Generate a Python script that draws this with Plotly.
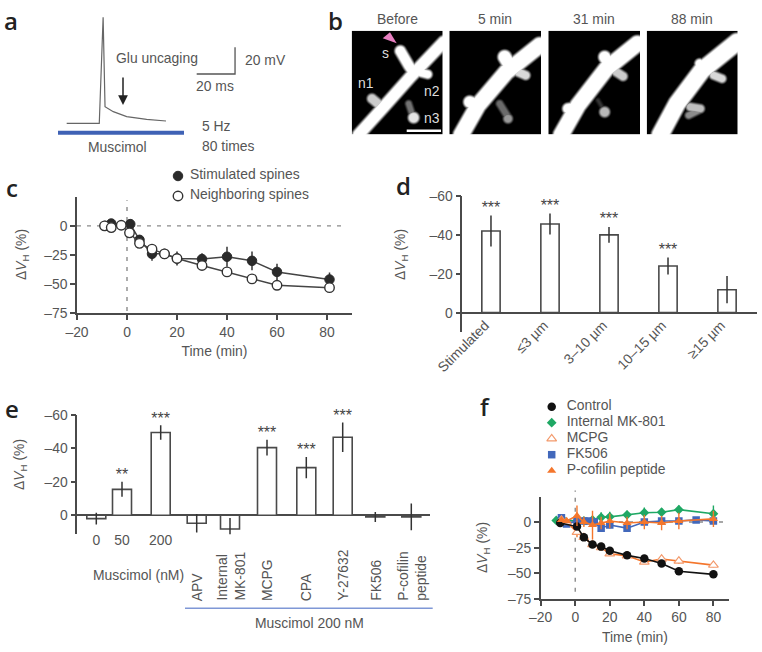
import numpy as np
import plotly.graph_objects as go

W, H = 762, 652
INK = "#4a4a4a"
TXT = "#555555"
FONT = "Liberation Sans"
FS = 13.9

# ---------- panel a: trace (ms, mV) and scale bars
trace_t = [0, 17, 19, 20, 24.3, 31.3, 41.7, 51.8]
trace_v = [0, 0, 79.5, 12.5, 8.75, 5, 3, 1.75]
scale_t = [67.8, 87.8, 87.8]
scale_v = [37, 37, 57]

# ---------- panel b: image sketches: (polyline points, radius, brightness), image units
img_before = [
    ([(55, 403), (130, 320), (210, 230), (310, 125)], 19, 1.0),
    ([(180, 152), (205, 195), (215, 210)], 17, 1.0),
    ([(262, 222), (235, 215)], 14, 1.0),
    ([(95, 295), (125, 320)], 15, 0.8),
    ([(220, 352), (220, 352)], 17, 0.9),
    ([(205, 310), (215, 340)], 10, 0.45),
]
img_5 = [
    ([(365, 403), (415, 315), (500, 215), (600, 135)], 25, 1.0),
    ([(495, 170), (510, 195)], 21, 1.0),
    ([(390, 305), (420, 315)], 19, 1.0),
    ([(558, 225), (535, 215)], 14, 0.85),
    ([(505, 355), (505, 355)], 14, 0.6),
    ([(480, 310), (505, 350)], 11, 0.42),
]
img_31 = [
    ([(665, 403), (715, 315), (800, 205), (893, 130)], 25, 1.0),
    ([(795, 170), (810, 195)], 19, 1.0),
    ([(685, 325), (715, 320)], 17, 1.0),
    ([(850, 228), (830, 215)], 14, 0.8),
    ([(795, 335), (795, 335)], 16, 0.72),
    ([(775, 300), (790, 325)], 6, 0.2),
]
img_88 = [
    ([(960, 403), (1010, 310), (1085, 210), (1190, 125)], 27, 1.0),
    ([(1078, 190), (1095, 210)], 15, 1.0),
    ([(1145, 235), (1120, 225)], 13, 0.85),
    ([(1080, 325), (1050, 320)], 13, 0.75),
    ([(1045, 345), (1075, 330)], 11, 0.55),
]
images = [img_before, img_5, img_31, img_88]
scale_bar_x = [200, 303]
scale_bar_y = [392, 392]
panel_titles = ["Before", "5 min", "31 min", "88 min"]

# ---------- panel c
c_stim_t = [-8.7, -6.3, 1.3, 5, 10, 15, 20, 30, 40, 50, 60, 81]
c_stim_v = [0, 2, 1.5, -12, -24, -24, -28, -28.5, -26.5, -30, -39.5, -46]
c_stim_e = [2, 2, 4, 3, 6, 3, 5, 5, 8.5, 8, 7, 6]
c_neigh_t = [-9, -6.3, -2.3, 1, 5, 10, 15, 20, 30, 40, 50, 60, 81]
c_neigh_v = [0, -1.5, 0.5, -6, -15, -20, -24, -28, -34, -39.5, -45.5, -51, -53]
c_neigh_e = [1, 2, 1, 2, 3, 2, 2, 6, 2, 2, 2, 2, 2]
c_names = ["Stimulated spines", "Neighboring spines"]
c_x_ticks = [-20, 0, 20, 40, 60, 80]
c_x_text = ["–20", "0", "20", "40", "60", "80"]
c_y_ticks = [-75, -50, -25, 0]
c_y_text = ["–75", "–50", "–25", "0"]

# ---------- panel d
d_labels = ["Stimulated", "≤3 µm", "3–10 µm", "10–15 µm", "≥15 µm"]
d_vals = [-42, -45.6, -40, -24, -11.8]
d_errs = [8, 5.4, 4, 4.4, 7]
d_stars = ["***", "***", "***", "***", ""]
bar_y_ticks = [-60, -40, -20, 0]
bar_y_text = ["–60", "–40", "–20", "0"]

# ---------- panel e
e_labels = ["0", "50", "200", "APV", "Internal<br>MK-801", "MCPG", "CPA", "Y-27632", "FK506", "P-cofilin<br>peptide"]
e_pos = [96.3, 122, 160.7, 196.7, 230, 267, 306.3, 342.7, 375.3, 411.3]
e_vals = [2, -15.5, -49.5, 4.8, 8.2, -40.5, -28.5, -46.7, 1, 1]
e_errs = [3.5, 4.5, 4.3, 5.5, 6.5, 4.7, 6.3, 8.8, 3, 8]
e_stars = ["", "**", "***", "", "", "***", "***", "***", "", ""]

# ---------- panel f
f_ctrl_t = [-8.7, 1, 5, 10, 15, 20, 30, 40, 50, 60, 80]
f_ctrl_v = [-1, -4.5, -15, -22, -24, -28, -32.5, -35.5, -40.5, -48, -51]
f_ctrl_e = [1, 2, 2, 2, 2, 2, 2, 2, 2, 2, 2]
f_mk_t = [-11, -7, 1, 5, 10, 15, 20, 30, 40, 50, 60, 80]
f_mk_v = [1.5, 2, 1, 1, 2, 4.5, 5, 7, 9, 9.5, 12, 8]
f_mk_e = [1, 2, 3, 3, 3, 5, 5, 4, 5, 4, 4, 8]
f_mcpg_t = [-8, -5, 1, 5, 10, 15, 20, 30, 40, 50, 60, 80]
f_mcpg_v = [2, 0, -10, -15, -22, -25, -31, -33, -39, -36, -38, -42]
f_mcpg_e = [2, 2, 5, 3, 3, 3, 2, 2, 2, 2, 3, 2]
f_fk_t = [-8, -5, 1, 5, 8, 11, 15, 20, 30, 40, 50, 60, 70, 80]
f_fk_v = [4, -2, 1, 1, 1, 0, -6, -3, -6, 0, 1, 1, 2, 1]
f_fk_e = [3, 3, 3, 3, 2, 2, 3, 3, 3, 3, 3, 3, 2, 3]
f_pc_t = [-8, -5, 1, 5, 10, 15, 20, 30, 40, 50, 60, 80]
f_pc_v = [2, 1, 6, 0, -3, -1, 1, -1, 0, -1, 1, 3]
f_pc_e = [2, 2, 10, 5, 14, 6, 7, 6, 7, 7, 8, 8]
f_names = ["Control", "Internal MK-801", "MCPG", "FK506", "P-cofilin peptide"]
f_x_ticks = c_x_ticks
f_x_text = c_x_text


def xdom(a, b):
    return [a / W, b / W]


def ydom(top, bot):
    return [1 - bot / H, 1 - top / H]


fig = go.Figure()
annots, shapes = [], []


def label(text, x, y, size=FS, color=TXT, anchor="center", angle=0, font=FONT, **kw):
    fnt = dict(family=font, size=size, color=color)
    fnt.update(kw.pop("fontx", {}))
    annots.append(dict(text=text, x=x / W, y=1 - y / H, xref="paper", yref="paper", showarrow=False,
                       xanchor=anchor, yanchor="middle", textangle=angle, font=fnt, **kw))


def hline_px(x0, x1, y, color, width):
    shapes.append(dict(type="line", xref="paper", yref="paper", x0=x0 / W, x1=x1 / W,
                       y0=1 - y / H, y1=1 - y / H, line=dict(color=color, width=width)))


axis_style = dict(showgrid=False, zeroline=False, showline=True, linecolor=INK, linewidth=1.5,
                  ticks="outside", ticklen=5, tickwidth=1.5, tickcolor=INK, automargin=False,
                  tickfont=dict(family=FONT, size=FS, color=TXT))
hidden = dict(visible=False, showgrid=False, zeroline=False, fixedrange=True, automargin=False)

layout = dict(width=W, height=H, margin=dict(l=0, r=0, t=0, b=0, pad=0), paper_bgcolor="white",
              plot_bgcolor="rgba(0,0,0,0)", showlegend=False)

# ---- a
layout["xaxis"] = dict(hidden, domain=xdom(50, 250), range=[-8.7, 95.6])
layout["yaxis"] = dict(hidden, domain=ydom(10, 130), range=[-5, 85])
fig.add_trace(go.Scatter(x=trace_t, y=trace_v, mode="lines", line=dict(color="#666666", width=1.2),
                         xaxis="x", yaxis="y"))
fig.add_trace(go.Scatter(x=scale_t, y=scale_v, mode="lines", line=dict(color="#555555", width=1.3),
                         xaxis="x", yaxis="y"))
hline_px(58, 184, 132.7, "#3f62b5", 4)
label("Glu uncaging", 157, 58)
label("20 mV", 243, 60, anchor="left")
label("20 ms", 215, 86)
label("5 Hz", 200, 126, anchor="left")
label("80 times", 200, 146, anchor="left")
label("Muscimol", 117, 147)
annots.append(dict(x=123 / W, y=1 - 105 / H, xref="paper", yref="paper", text="", ax=0, ay=-29,
                   arrowhead=2, arrowsize=1.3, arrowwidth=1.5, arrowcolor="#222222", showarrow=True))

# ---- b
rects = [(351.7, 442.7), (449.3, 541), (548.3, 640), (646.7, 737.7)]
offs = [35, 328, 625, 920]


def render(strokes, x0, npx, y0=92, nrow=104, step=3.0):
    """Paint the hand-read strokes of one micrograph on a pixel grid with soft edges."""
    xs = x0 + (np.arange(npx) + 0.5) * step
    ys = y0 + (np.arange(nrow) + 0.5) * step
    gx, gy = np.meshgrid(xs, ys)
    z = np.zeros_like(gx)
    for pts, r, bright in strokes:
        for (ax_, ay_), (bx_, by_) in zip(pts[:-1], pts[1:]):
            dx, dy = bx_ - ax_, by_ - ay_
            den = max(dx * dx + dy * dy, 1e-6)
            u = np.clip(((gx - ax_) * dx + (gy - ay_) * dy) / den, 0, 1)
            d = np.hypot(gx - (ax_ + u * dx), gy - (ay_ + u * dy))
            edge = np.clip((r + 6 - d) / 12, 0, 1)
            z = np.maximum(z, bright * edge * edge * (3 - 2 * edge))
    return xs, ys, z


for i, (a, b) in enumerate(rects):
    n = 2 + i
    xn, yn = f"xaxis{n}", f"yaxis{n}"
    x_id, y_id = f"x{n}", f"y{n}"
    layout[xn] = dict(hidden, domain=xdom(a, b), range=[offs[i], offs[i] + (b - a) * 3], anchor=y_id)
    layout[yn] = dict(hidden, domain=ydom(30.7, 134.3), range=[403, 92], anchor=x_id)
    xs, ys, z = render(images[i], offs[i], int(round(b - a)))
    fig.add_trace(go.Heatmap(x=xs, y=ys, z=z, zmin=0, zmax=1, showscale=False, hoverinfo="skip",
                             colorscale=[[0, "black"], [1, "white"]], xaxis=x_id, yaxis=y_id))
    label(panel_titles[i], (a + b) / 2, 19)
fig.add_trace(go.Scatter(x=scale_bar_x, y=scale_bar_y, mode="lines", line=dict(color="white", width=2.5),
                         xaxis="x2", yaxis="y2"))
for t, x, y in (("s", 385.7, 52.7), ("n1", 365.7, 83.3), ("n2", 432.3, 90.7), ("n3", 432.3, 118.3)):
    label(t, x, y, color="#dddddd")
shapes.append(dict(type="path", xref="paper", yref="paper", line=dict(width=0), fillcolor="#e77fc0",
                   path=f"M {382.7/W} {1-38.3/H} L {390/W} {1-32.3/H} L {396.7/W} {1-43.3/H} Z"))

# ---- c
layout["xaxis6"] = dict(axis_style, domain=xdom(77, 352), range=[-20, 90], tickvals=c_x_ticks, ticktext=c_x_text,
                        anchor="y6", title=dict(text="Time (min)", standoff=8, font=dict(family=FONT, size=FS, color=TXT)))
layout["yaxis6"] = dict(axis_style, domain=ydom(196.7, 313.3), range=[-75, 25], tickvals=c_y_ticks, ticktext=c_y_text,
                        anchor="x6")
DASH = dict(color="#8a8a8a", width=1.4, dash="4px,6px")
shapes.append(dict(type="line", xref="x6 domain", yref="y6", x0=0, x1=0.98, y0=0, y1=0, line=DASH, layer="below"))
shapes.append(dict(type="line", xref="x6", yref="y6 domain", x0=0, x1=0, y0=0.02, y1=0.97, line=DASH, layer="below"))
shapes.append(dict(type="line", xref="x9 domain", yref="y9", x0=0.15, x1=0.99, y0=0, y1=0, line=DASH, layer="below"))
shapes.append(dict(type="line", xref="x9", yref="y9 domain", x0=0, x1=0, y0=0.07, y1=1.06, line=DASH, layer="below"))
err = dict(type="data", color="#333333", thickness=1.5, width=0)
c_filled = dict(symbol="circle", size=9.5, color="#2a2a2a", line=dict(color="#2a2a2a", width=1))
c_open = dict(symbol="circle", size=9.5, color="white", line=dict(color="#333333", width=1.4))
fig.add_trace(go.Scatter(x=c_stim_t, y=c_stim_v, mode="lines+markers", error_y=dict(err, array=c_stim_e),
                         line=dict(color="#444444", width=1.5), marker=c_filled, xaxis="x6", yaxis="y6"))
fig.add_trace(go.Scatter(x=c_neigh_t, y=c_neigh_v, mode="lines+markers", error_y=dict(err, array=c_neigh_e),
                         line=dict(color="#444444", width=1.5), marker=c_open, xaxis="x6", yaxis="y6"))


def key(names, markers, ax, left, first_row, row_h, text_gap, width=150):
    """Legend drawn as its own small hidden axes, one row per series."""
    x_id, y_id = f"x{ax}", f"y{ax}"
    layout[f"xaxis{ax}"] = dict(hidden, domain=xdom(left, left + width), range=[0, width], anchor=y_id)
    layout[f"yaxis{ax}"] = dict(hidden, domain=ydom(first_row - row_h / 2, first_row + row_h * (len(names) - 0.5)),
                                range=[len(names) - 0.5, -0.5], anchor=x_id)
    for r, (nm, mk) in enumerate(zip(names, markers)):
        fig.add_trace(go.Scatter(x=[0], y=[r], mode="markers", marker=mk, cliponaxis=False, xaxis=x_id, yaxis=y_id))
        fig.add_trace(go.Scatter(x=[text_gap], y=[r], mode="text", text=[nm], textposition="middle right",
                                 textfont=dict(family=FONT, size=FS, color=TXT), cliponaxis=False,
                                 xaxis=x_id, yaxis=y_id))


key(c_names, [c_filled, c_open], 10, 178, 176, 20, 12)
label("Δ<i>V</i><sub>H</sub> (%)", 22, 255, angle=-90)


# ---- bars d and e
def bars(x, vals, errs, xa, ya):
    fig.add_trace(go.Bar(x=x, y=vals, width=bar_w[xa], marker=dict(color="white", line=dict(color=INK, width=1.6)),
                         error_y=dict(err, array=errs), xaxis=xa, yaxis=ya))


def stars(x, vals, errs, star, xa, ya, gap):
    sx = [a for a, s in zip(x, star) if s]
    sy = [v - e - gap for v, e, s in zip(vals, errs, star) if s]
    fig.add_trace(go.Scatter(x=sx, y=sy, text=[s for s in star if s], mode="text", textposition="middle center",
                             textfont=dict(family=FONT, size=16, color="#444444"), cliponaxis=False,
                             xaxis=xa, yaxis=ya))


bar_w = {"x7": 0.31, "x8": 19}
d_top, d_bot, d_zero = 196, 331.7, 312.7
layout["xaxis7"] = dict(axis_style, domain=xdom(462.3, 756.7), range=[-0.486, 4.503], showline=False, ticks="",
                        tickvals=[i - 0.1 for i in range(5)], ticktext=d_labels, tickangle=-45, anchor="free",
                        position=1 - d_zero / H, ticklabelstandoff=1)
layout["yaxis7"] = dict(axis_style, domain=ydom(d_top, d_bot), range=[9.8, -60], tickvals=bar_y_ticks, ticktext=bar_y_text,
                        anchor="x7", zeroline=True, zerolinecolor=INK, zerolinewidth=1.5)
bars(list(range(5)), d_vals, d_errs, "x7", "y7")
stars(list(range(5)), d_vals, d_errs, d_stars, "x7", "y7", 3.5)
label("Δ<i>V</i><sub>H</sub> (%)", 401, 255, angle=-90)

e_top, e_bot, e_zero = 415, 534.3, 515.3
layout["xaxis8"] = dict(axis_style, domain=xdom(77.3, 430), range=[77.3, 430], showline=False, ticks="",
                        tickvals=e_pos[:3], ticktext=e_labels[:3], anchor="free", position=1 - e_zero / H,
                        ticklabelstandoff=15)
layout["yaxis8"] = dict(axis_style, domain=ydom(e_top, e_bot), range=[11.4, -60], tickvals=bar_y_ticks, ticktext=bar_y_text,
                        anchor="x8", zeroline=True, zerolinecolor=INK, zerolinewidth=1.5)
bars(e_pos, e_vals, e_errs, "x8", "y8")
stars(e_pos, e_vals, e_errs, e_stars, "x8", "y8", 3.5)
label("Δ<i>V</i><sub>H</sub> (%)", 20, 465, angle=-90)
label("Muscimol (nM)", 138, 575)
label("Muscimol 200 nM", 309, 623)
hline_px(185, 432.7, 608.3, "#7f97d6", 1.6)
for name, cx in zip(e_labels[3:], e_pos[3:]):
    annots.append(dict(text=name, x=cx, y=1 - 603 / H, xref="x8", yref="paper", showarrow=False, textangle=-90,
                       xanchor="center", yanchor="bottom", font=dict(family=FONT, size=FS, color=TXT), align="left"))

# ---- f
layout["xaxis9"] = dict(axis_style, domain=xdom(540.7, 729.3), range=[-20, 89.2], tickvals=f_x_ticks, ticktext=f_x_text,
                        anchor="y9", title=dict(text="Time (min)", standoff=8, font=dict(family=FONT, size=FS, color=TXT)))
layout["yaxis9"] = dict(axis_style, domain=ydom(496.7, 599), range=[-75, 24.6], tickvals=c_y_ticks, ticktext=c_y_text,
                        anchor="x9")
GREEN, ORANGE, BLUE = "#1fa864", "#f4762c", "#4268bb"
mk_green = dict(symbol="diamond", size=7.5, color=GREEN)
mk_blue = dict(symbol="square", size=7.5, color=BLUE)
mk_black = dict(symbol="circle", size=8.5, color="#111111")
mk_open = dict(symbol="triangle-up", size=8.5, color="white", line=dict(color="#f39a6c", width=1.2))
mk_orange = dict(symbol="triangle-up", size=8, color=ORANGE)
series = [
    (f_mk_t, f_mk_v, f_mk_e, GREEN, mk_green),
    (f_fk_t, f_fk_v, f_fk_e, BLUE, mk_blue),
    (f_mcpg_t, f_mcpg_v, f_mcpg_e, ORANGE, mk_open),
    (f_ctrl_t, f_ctrl_v, f_ctrl_e, "#111111", mk_black),
    (f_pc_t, f_pc_v, f_pc_e, ORANGE, mk_orange),
]
for t, v, e, col, mk in series:
    fig.add_trace(go.Scatter(x=t, y=v, mode="lines+markers", line=dict(color=col, width=1.6),
                             marker=mk, error_y=dict(type="data", array=e, color=col, thickness=1.4, width=0),
                             xaxis="x9", yaxis="y9"))
key(f_names, [mk_black, mk_green, mk_open, mk_blue, mk_orange], 11, 551.7, 406.7, 16, 15)
label("Δ<i>V</i><sub>H</sub> (%)", 483, 548, angle=-90)

# ---- panel letters
for t, x, y in (("a", 11, 20), ("b", 335, 20), ("c", 12, 187), ("d", 403, 185), ("e", 12, 408), ("f", 485, 407)):
    label(t, x, y, size=24, color="#222222", font="Open Sans", fontx=dict(weight=600))

layout["annotations"] = annots
layout["shapes"] = shapes
fig.update_layout(**layout)
fig.write_html("out.html", config={"displayModeBar": False}, post_script="document.body.style.margin='0';")
